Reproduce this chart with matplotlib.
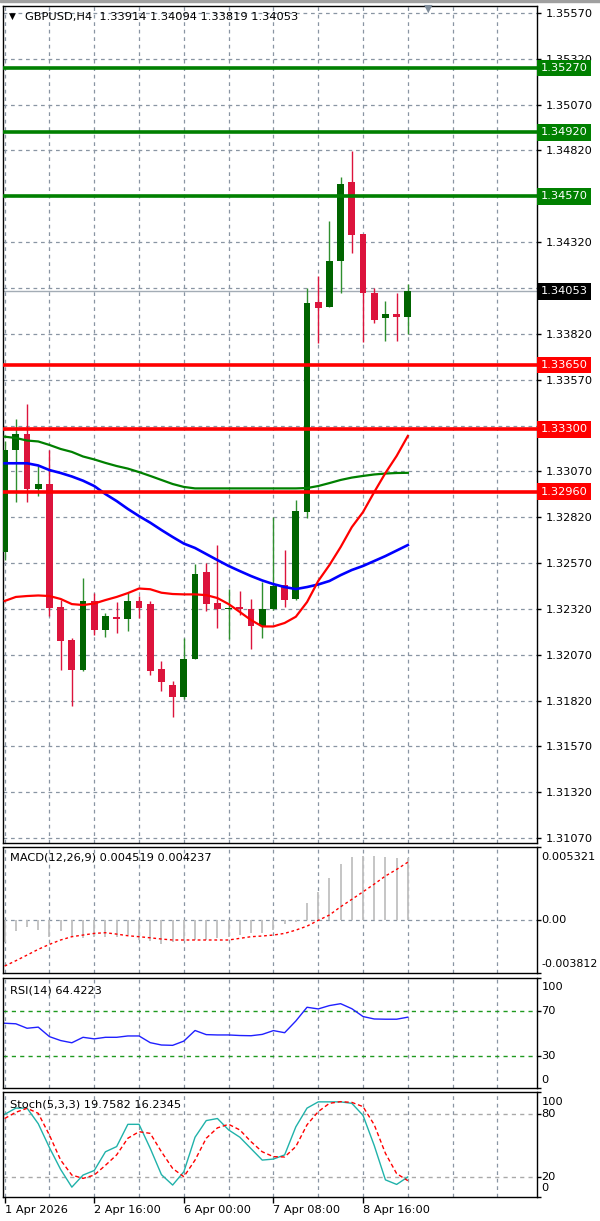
import numpy as np
import matplotlib.pyplot as plt
from matplotlib.transforms import ScaledTranslation

# GBPUSD H4 candles, 1 Apr 08:00 .. 9 Apr 08:00
opens = [1.32630, 1.33185, 1.33276, 1.32975, 1.33000, 1.32331, 1.32149, 1.31986, 1.32362, 1.32207,
         1.32273, 1.32266, 1.32362, 1.32345, 1.31994, 1.31903, 1.31837, 1.32048, 1.32521, 1.32352,
         1.32319, 1.32328, 1.32317, 1.32226, 1.32317, 1.32452, 1.32375, 1.32850, 1.33992, 1.33965,
         1.34217, 1.34647, 1.34364, 1.34044, 1.33905, 1.33927, 1.33914]
highs = [1.33235, 1.33356, 1.33440, 1.33098, 1.33189, 1.32371, 1.32162, 1.32489, 1.32404, 1.32295,
         1.32356, 1.32404, 1.32389, 1.32361, 1.32034, 1.31925, 1.32161, 1.32566, 1.32572, 1.32670,
         1.32430, 1.32415, 1.32372, 1.32466, 1.32821, 1.32641, 1.32914, 1.34068, 1.34137, 1.34435,
         1.34677, 1.34819, 1.34364, 1.34070, 1.34001, 1.34041, 1.34094]
lows = [1.32585, 1.32902, 1.32902, 1.32935, 1.32280, 1.31989, 1.31789, 1.31980, 1.32180, 1.32167,
        1.32189, 1.32198, 1.32271, 1.31957, 1.31870, 1.31730, 1.31830, 1.32045, 1.32306, 1.32215,
        1.32157, 1.32288, 1.32099, 1.32163, 1.32314, 1.32330, 1.32370, 1.32815, 1.33768, 1.33965,
        1.34040, 1.34259, 1.33777, 1.33881, 1.33783, 1.33783, 1.33819]
closes = [1.33189, 1.33276, 1.32975, 1.33000, 1.32326, 1.32144, 1.31986, 1.32362, 1.32207, 1.32280,
          1.32266, 1.32362, 1.32326, 1.31981, 1.31921, 1.31837, 1.32048, 1.32512, 1.32348, 1.32317,
          1.32323, 1.32319, 1.32226, 1.32321, 1.32443, 1.32370, 1.32854, 1.33986, 1.33959, 1.34219,
          1.34637, 1.34359, 1.34041, 1.33895, 1.33927, 1.33914, 1.34053]

ma_red = [1.32363, 1.32385, 1.32390, 1.32393, 1.32390, 1.32374, 1.32346, 1.32341, 1.32349, 1.32368,
          1.32385, 1.32406, 1.32431, 1.32427, 1.32408, 1.32401, 1.32399, 1.32399, 1.32395, 1.32379,
          1.32346, 1.32303, 1.32259, 1.32224, 1.32224, 1.32243, 1.32277, 1.32357, 1.32472, 1.32559,
          1.32657, 1.32766, 1.32848, 1.32957, 1.33061, 1.33154, 1.33263]
ma_blue = [1.33114, 1.33114, 1.33114, 1.33102, 1.33077, 1.33061, 1.33042, 1.33019, 1.32990, 1.32946,
           1.32908, 1.32865, 1.32826, 1.32790, 1.32750, 1.32712, 1.32676, 1.32652, 1.32619, 1.32586,
           1.32554, 1.32526, 1.32499, 1.32475, 1.32455, 1.32439, 1.32428, 1.32439, 1.32453, 1.32472,
           1.32504, 1.32532, 1.32554, 1.32581, 1.32608, 1.32638, 1.32668]
ma_green = [1.33259, 1.33252, 1.33238, 1.33233, 1.33214, 1.33192, 1.33176, 1.33151, 1.33135, 1.33116,
            1.33099, 1.33085, 1.33066, 1.33045, 1.33023, 1.33001, 1.32985, 1.32977, 1.32977, 1.32977,
            1.32977, 1.32977, 1.32977, 1.32977, 1.32977, 1.32977, 1.32977, 1.32979, 1.32990, 1.33006,
            1.33023, 1.33036, 1.33045, 1.33053, 1.33058, 1.33061, 1.33062]

resistances = [1.35270, 1.34920, 1.34570]
supports = [1.33650, 1.33300, 1.32960]
last_price = 1.34053

macd_main = [-0.0016, -0.0008, -0.0005, -0.0007, -0.0012, -0.0008, -0.0012, -0.0013, -0.0012, -0.0012,
             -0.0012, -0.0011, -0.0014, -0.0015, -0.0017, -0.0016, -0.0015, -0.0014, -0.0014, -0.0013,
             -0.0012, -0.0011, -0.0009, -0.0009, -0.0007, -0.0003, -0.0001, 0.00128, 0.00208, 0.00306,
             0.0041, 0.00459, 0.00468, 0.00468, 0.00464, 0.00452, 0.004519]
macd_signal = [-0.00333, -0.00294, -0.00253, -0.00211, -0.00175, -0.00143, -0.00119, -0.00107, -0.00095, -0.0009,
               -0.0010, -0.00112, -0.00119, -0.00127, -0.00136, -0.00143, -0.00143, -0.00143, -0.00143, -0.00143,
               -0.00143, -0.00131, -0.00119, -0.00114, -0.00107, -0.00095, -0.00071, -0.00042, 0.0, 0.00039,
               0.00099, 0.00153, 0.00208, 0.00264, 0.00323, 0.00371, 0.004237]

rsi = [59, 58.5, 54.5, 55.5, 47, 43.5, 41.5, 46.4, 45, 46.4,
       46.4, 47.6, 47.6, 41.6, 39.5, 39.2, 43, 52.5, 48.8, 48.5,
       48.5, 48, 47.8, 49, 52.4, 50.5, 61, 73.3, 71.8, 74.8,
       76.5, 72, 65, 62.8, 62.6, 62.6, 64.4223]

stoch_k = [80, 86, 86, 71, 48, 27, 10, 21.6, 26, 44,
           49, 70.4, 70.4, 47.3, 22, 12, 24.8, 58, 74, 76,
           65, 58, 47, 36, 37, 41, 68, 86, 92, 92,
           92, 90.6, 79, 50, 17, 12.6, 19.7582]
stoch_d = [76, 82, 85.8, 81, 60, 36, 21.6, 18.4, 21.6, 31,
           41, 57, 63.3, 61.7, 44, 28, 20, 36, 57, 67,
           70.4, 65, 53.7, 44, 39.3, 39, 49, 70, 82.6, 90.6,
           92.2, 91.5, 87.4, 70, 42.5, 23, 16.2345]

date_labels = ['1 Apr 2026', '2 Apr 16:00', '6 Apr 00:00', '7 Apr 08:00', '8 Apr 16:00']

plt.rcParams['font.family'] = 'DejaVu Sans'
GRID = '#8995a3'
DASH = (0, (3, 3))
FS = 8.2

fig = plt.figure(figsize=(6, 12.21), dpi=100)
W, H = 600, 1221
L, R = 3.3, 537.3
shift = ScaledTranslation(4 / 100, 0, fig.dpi_scale_trans)


def panel(top, bottom):
    ax = fig.add_axes([L / W, 1 - bottom / H, (R - L) / W, (bottom - top) / H])
    ax.set_xlim(-0.12, 47.56)
    ax.set_xticks([])
    ax.yaxis.tick_right()
    ax.tick_params(axis='y', length=3, width=1, labelsize=FS, pad=3)
    for xv in range(0, 48, 4):
        ax.axvline(xv, color=GRID, linestyle=DASH, linewidth=0.9, zorder=1)
    for sp in ax.spines.values():
        sp.set_linewidth(1.0)
    return ax


def side_label(ax, y, txt, size=FS):
    ax.text(1.0, y, txt, transform=ax.get_yaxis_transform() + shift,
            fontsize=size, va='center', ha='left', clip_on=False)


idx = np.arange(len(opens))
o, h, l, c = map(np.array, (opens, highs, lows, closes))
up = c >= o

# main price panel
ax = panel(6, 843)
ax.set_ylim(1.31043, 1.35608)
yt = np.round(np.arange(1.3107, 1.35571, 0.0025), 4)
hidden = {1.3457, 1.3407, 1.3332}
ax.set_yticks(yt, ['' if v in hidden else f'{v:.5f}' for v in yt])
ax.yaxis.grid(True, color=GRID, linestyle=DASH, linewidth=0.9)
ax.vlines(idx[up], l[up], h[up], color='#2f8f2f', lw=1, zorder=3)
ax.vlines(idx[~up], l[~up], h[~up], color='#dc143c', lw=1, zorder=3)
body = np.maximum(np.abs(c - o), 0.00004)
ax.bar(idx[up], body[up], bottom=np.minimum(o, c)[up], width=0.6, color='#006400', zorder=4)
ax.bar(idx[~up], body[~up], bottom=np.minimum(o, c)[~up], width=0.6, color='#dc143c', zorder=4)
ax.plot(idx, ma_green, color='#008000', lw=1.6, zorder=5)
ax.plot(idx, ma_blue, color='#0000ff', lw=1.9, zorder=5)
ax.plot(idx, ma_red, color='#ff0000', lw=1.6, zorder=5)
ax.axhline(last_price, color='#a3acb5', lw=1, zorder=2)
for lev in resistances:
    ax.axhline(lev, color='#008000', lw=2.6, zorder=6)
for lev in supports:
    ax.axhline(lev, color='#ff0000', lw=2.6, zorder=6)
ytr = ax.get_yaxis_transform()
for lev, col in [(v, '#008000') for v in resistances] + [(v, '#ff0000') for v in supports] + [(last_price, 'black')]:
    ax.text(1.0065, lev, f'{lev:.5f}', transform=ytr, color='white', fontsize=FS, va='center', ha='left',
            zorder=10, clip_on=False,
            bbox=dict(boxstyle='square,pad=0.3', fc=col, ec='none'))
ax.text(0.04, 0.987, 'GBPUSD,H4  1.33914 1.34094 1.33819 1.34053', transform=ax.transAxes,
        fontsize=8.2, va='center', ha='left')
ax.text(0.017, 0.987, '▼', transform=ax.transAxes, fontsize=6.5, va='center', ha='center')
fig.text(428 / W, 1 - 9 / H, '▼', color='#7f8c9a', fontsize=8, ha='center', va='center')
fig.add_artist(plt.Rectangle((0, 1 - 2 / H), 1, 2 / H, transform=fig.transFigure, color='#a0a0a0'))

# MACD panel
m = panel(847.3, 972.7)
m.set_ylim(-0.003812, 0.005321)
m.set_yticks([-0.003812, 0.0, 0.005321], ['', '', ''])
m.axhline(0, color=GRID, linestyle=DASH, lw=0.9)
m.vlines(idx, 0, macd_main, color='#c0c0c0', lw=1.3)
m.plot(idx, macd_signal, color='#ff0000', lw=1, linestyle=(0, (2, 2)))
side_label(m, 0.005321 - 0.00068, '0.005321')
side_label(m, 0.0, '0.00')
side_label(m, -0.003812 + 0.00062, '-0.003812', size=7.9)
m.text(0.012, 0.92, 'MACD(12,26,9) 0.004519 0.004237', transform=m.transAxes, fontsize=8.2, va='center')

# RSI panel
r = panel(978, 1088)
r.set_ylim(1, 99.5)
r.set_yticks([1, 30, 70, 99.5], ['', '', '', ''])
for lv in (30, 70):
    r.axhline(lv, color='#1f9a1f', linestyle=DASH, lw=1)
r.plot(idx, rsi, color='#2020ff', lw=1)
for yv, txt in [(91.5, '100'), (70, '70'), (30, '30'), (8, '0')]:
    side_label(r, yv, txt)
r.text(0.012, 0.89, 'RSI(14) 64.4223', transform=r.transAxes, fontsize=8.2, va='center')

# Stochastic panel
s = panel(1092.3, 1196.7)
s.set_ylim(0.8, 101.2)
s.set_yticks([0.8, 20, 80, 101.2], ['', '', '', ''])
for lv in (20, 80):
    s.axhline(lv, color='#a9a9a9', linestyle=DASH, lw=1)
s.plot(idx, stoch_k, color='#20b2aa', lw=1)
s.plot(idx, stoch_d, color='#ff0000', lw=1, linestyle=(0, (3, 2)))
for yv, txt in [(92, '100'), (80, '80'), (20, '20'), (8.8, '0')]:
    side_label(s, yv, txt)
s.text(0.012, 0.88, 'Stoch(5,3,3) 19.7582 16.2345', transform=s.transAxes, fontsize=8.2, va='center')
s.set_xticks(np.arange(0, 40, 8), date_labels)
s.tick_params(axis='x', length=4, width=1, labelsize=FS, pad=2)
for lab in s.get_xticklabels():
    lab.set_ha('left')

fig.savefig('out.png', dpi=100, facecolor='white')
